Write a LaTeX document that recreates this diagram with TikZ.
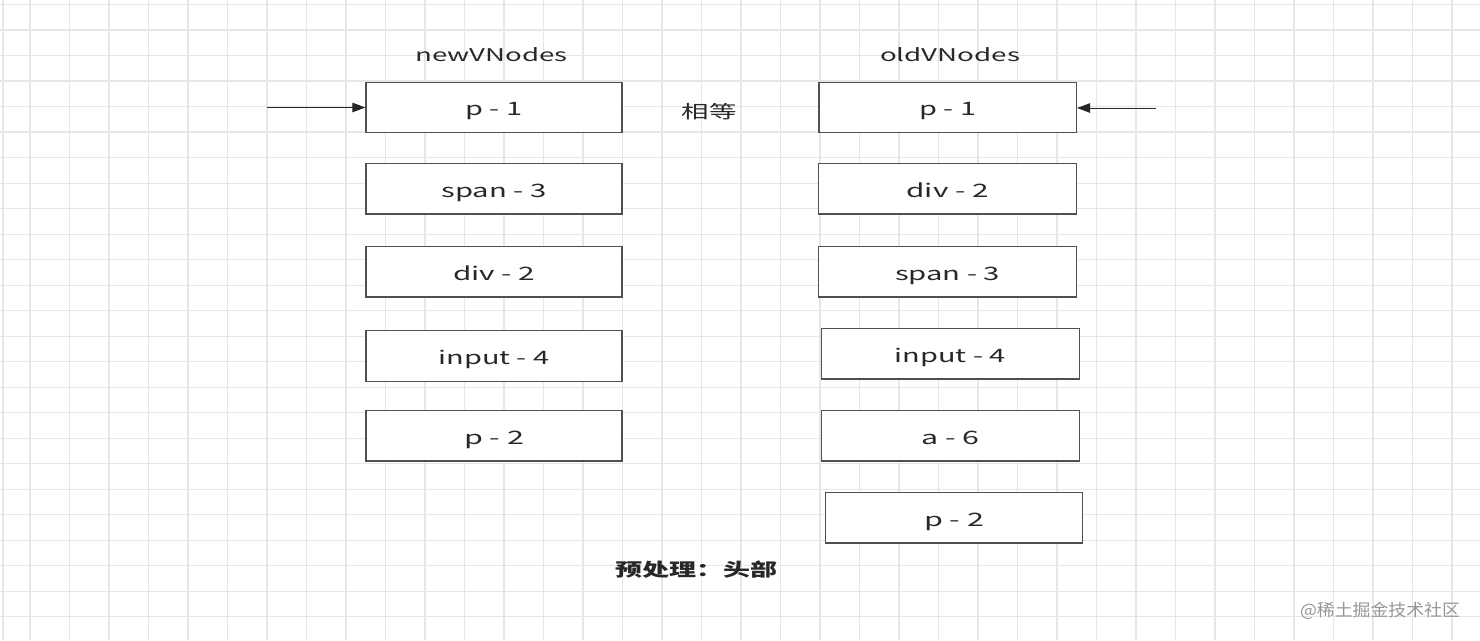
\documentclass[tikz,border=0pt]{standalone}
\usepackage{fontspec}
\usepackage{graphicx}
\setmainfont{Noto Sans CJK SC}
\usetikzlibrary{arrows.meta}
\definecolor{gridc}{RGB}{230,230,230}
\definecolor{boxc}{RGB}{80,80,80}
\definecolor{txtc}{RGB}{40,40,40}
\definecolor{wmc}{RGB}{150,150,150}
\newcommand{\wtxt}[2]{\resizebox{#1pt}{\height}{#2}}
\tikzset{
  gridline/.style={draw=gridc, line width=1.1pt},
  vbox/.style={draw=boxc, line width=1.3pt, fill=white, minimum height=50.5pt, inner sep=0pt,
    text height=18pt, text depth=1.4pt, font=\fontsize{18.5pt}{20pt}\selectfont, text=txtc},
  title/.style={anchor=base, font=\fontsize{17.5pt}{19pt}\selectfont, text=txtc, inner sep=0pt},
  cjk/.style={font=\fontsize{18pt}{20pt}\selectfont, text=txtc, inner sep=0pt},
  ptr/.style={draw=black!85, line width=1pt, -{Triangle[length=13pt,width=9.5pt]}},
}
\begin{document}
\begin{tikzpicture}[x=1pt,y=-1pt]
\useasboundingbox (0,0) rectangle (1480,640);
\fill[white] (0,0) rectangle (1480,640);
% grid
\foreach \i in {0,...,36} \draw[gridline] ({30+39.5*\i},0) -- ({30+39.5*\i},640);
\draw[gridline] (3,0) -- (3,640);
\foreach \j in {-1,...,23} \draw[gridline] (0,{30+25.51*\j}) -- (1480,{30+25.51*\j});
% titles
\node[title] (tnew) at (491.5,61.7) {\wtxt{152}{newVNodes}};
\node[title] (told) at (950,61.7) {\wtxt{140}{oldVNodes}};
% left column
\node[vbox, minimum width=256pt] (n1) at (494,107.5) {\wtxt{57}{p - 1}};
\node[vbox, minimum width=256pt] (n2) at (494,188.8) {\wtxt{105}{span - 3}};
\node[vbox, minimum width=256pt] (n3) at (494,271.8) {\wtxt{82}{div - 2}};
\node[vbox, minimum width=256pt] (n4) at (494,356) {\wtxt{111}{input - 4}};
\node[vbox, minimum width=256pt] (n5) at (494,435.8) {\wtxt{60}{p - 2}};
% right column
\node[vbox, minimum width=257.5pt] (o1) at (947.7,107.5) {\wtxt{57}{p - 1}};
\node[vbox, minimum width=258pt] (o2) at (947.5,188.7) {\wtxt{82}{div - 2}};
\node[vbox, minimum width=258pt] (o3) at (947.5,271.8) {\wtxt{105}{span - 3}};
\node[vbox, minimum width=258pt] (o4) at (950.3,353.7) {\wtxt{111}{input - 4}};
\node[vbox, minimum width=258pt] (o5) at (950.3,435.8) {\wtxt{58}{a - 6}};
\node[vbox, minimum width=256.6pt] (o6) at (954,517.7) {\wtxt{60}{p - 2}};
% labels
\node[cjk] (eq) at (709,111.3) {\wtxt{55}{相等}};
\node[cjk, font=\fontsize{18pt}{20pt}\selectfont\bfseries] (pre) at (696,569.5) {\wtxt{162}{预处理：头部}};
\node[cjk, text=wmc, font=\fontsize{17pt}{19pt}\selectfont] (wm) at (1380,611) {\wtxt{160}{@稀土掘金技术社区}};
% pointers
\coordinate (ls) at (267,107.5);
\coordinate (rs) at (1156,108);
\draw[ptr] (ls) -- (n1.west);
\draw[ptr] (rs) -- (o1.east |- rs);
\end{tikzpicture}
\end{document}
